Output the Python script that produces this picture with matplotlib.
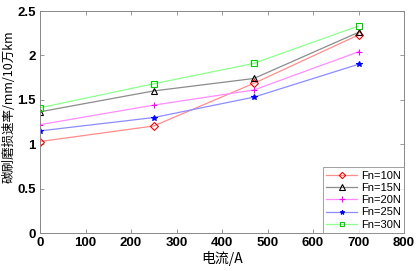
import matplotlib
matplotlib.use("Agg")
import matplotlib.pyplot as plt

plt.rcParams['font.family'] = ['Liberation Sans', 'Noto Sans CJK SC', 'DejaVu Sans']

current = [0, 250, 470, 700]  # x values, A
fn10 = [1.03, 1.205, 1.685, 2.23]
fn15 = [1.365, 1.60, 1.74, 2.26]
fn20 = [1.22, 1.44, 1.61, 2.04]
fn25 = [1.15, 1.30, 1.53, 1.90]
fn30 = [1.41, 1.68, 1.91, 2.33]
labels = ["Fn=10N", "Fn=15N", "Fn=20N", "Fn=25N", "Fn=30N"]

fig = plt.figure(figsize=(4.2, 2.71), dpi=100)
ax = fig.add_axes([40/420, 1 - 233/271, 364/420, 222/271])

# line colour, marker colour, marker
styles = [("#ff8c8c", "red", "D", 4),
          ("#8c8c8c", "black", "^", 5),
          ("#ff8cff", "magenta", "+", 5),
          ("#8c8cff", "blue", "*", 4),
          ("#8cff8c", "#00cc00", "s", 4)]
for ys, lab, (lc, mc, mk, ms) in zip([fn10, fn15, fn20, fn25, fn30], labels, styles):
    ax.plot(current, ys, color=lc, lw=0.9, marker=mk, markersize=ms,
            markeredgecolor=mc, markerfacecolor="none" if mk not in "+*" else mc,
            markeredgewidth=0.8, label=lab)

ax.set_xlim(0, 800)
ax.set_ylim(0, 2.5)
ax.set_xticks(range(0, 801, 100))
ax.set_yticks([0, 0.5, 1, 1.5, 2, 2.5])
ax.set_yticklabels(["0", "0.5", "1", "1.5", "2", "2.5"])
ax.tick_params(direction="in", length=3, width=0.6, color="#888888",
               labelsize=9.5, top=True, right=True, pad=3)
for lbl in ax.get_xticklabels() + ax.get_yticklabels():
    lbl.set_fontweight("bold")
for s in ax.spines.values():
    s.set_color("#888888")
    s.set_linewidth(0.7)

ax.set_xlabel("电流/A", fontsize=10, family=['Noto Sans CJK SC', 'DejaVu Sans'], labelpad=1)
ax.set_ylabel("碳刷磨损速率/mm/10万km", fontsize=9,
              family=['Noto Sans CJK SC', 'DejaVu Sans'])
ax.yaxis.set_label_coords(-0.068, 0.57)

leg = ax.legend(loc="lower right", fontsize=8, frameon=True, fancybox=False,
                borderaxespad=0, handlelength=2.8, labelspacing=0.2,
                borderpad=0.3, handletextpad=0.3, markerscale=0.8)
leg.get_frame().set_edgecolor("#888888")
leg.get_frame().set_linewidth(0.7)

fig.savefig("out.png", dpi=100)
